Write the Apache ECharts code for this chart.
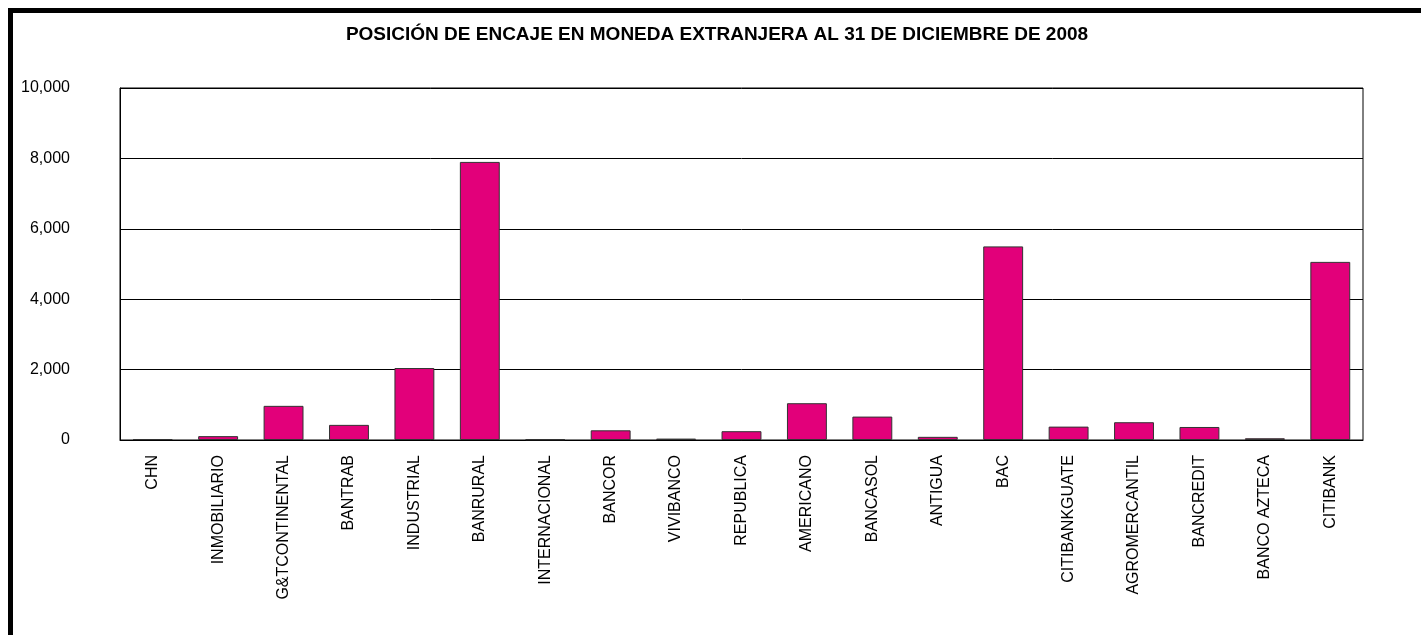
<!DOCTYPE html>
<html>
<head>
<meta charset="utf-8">
<script src="https://cdn.jsdelivr.net/npm/echarts@6/dist/echarts.min.js"></script>
<style>
html,body{margin:0;padding:0;background:#fff;}
#c{width:1421px;height:635px;}
</style>
</head>
<body>
<div id="c"></div>
<script>
const titleText = 'POSICIÓN DE ENCAJE EN MONEDA EXTRANJERA AL 31 DE DICIEMBRE DE 2008';
const categories = ['CHN','INMOBILIARIO','G&TCONTINENTAL','BANTRAB','INDUSTRIAL','BANRURAL','INTERNACIONAL','BANCOR','VIVIBANCO','REPUBLICA','AMERICANO','BANCASOL','ANTIGUA','BAC','CITIBANKGUATE','AGROMERCANTIL','BANCREDIT','BANCO AZTECA','CITIBANK'];
const values = [25, 110, 970, 430, 2045, 7900, 20, 275, 40, 250, 1045, 665, 90, 5500, 380, 505, 370, 50, 5060];
const yTicks = [0, 2000, 4000, 6000, 8000, 10000];

const chart = echarts.init(document.getElementById('c'), null, {renderer:'canvas'});
const font = 'Arial, "Liberation Sans", sans-serif';
chart.setOption({
  animation:false,
  backgroundColor:'#fff',
  title:{
    text:titleText,
    left:712, top:20, textAlign:'center',
    textStyle:{fontFamily:font, fontWeight:'bold', fontSize:19, color:'#000'}
  },
  graphic:[{
    type:'rect', silent:true,
    shape:{x:10.5, y:10.5, width:1600, height:1000},
    style:{fill:null, stroke:'#000', lineWidth:5}
  }],
  grid:{left:120, right:58, top:88, bottom:195, show:true, borderColor:'#000', borderWidth:1, containLabel:false},
  xAxis:{
    type:'category', data:categories,
    axisLine:{lineStyle:{color:'#000', width:1}},
    axisTick:{show:false},
    axisLabel:{rotate:90, margin:15, interval:0, fontFamily:font, fontSize:16, color:'#000'}
  },
  yAxis:{
    type:'value', min:yTicks[0], max:yTicks[yTicks.length-1], interval:2000,
    axisLine:{show:true, lineStyle:{color:'#000', width:1}},
    axisTick:{show:false},
    splitLine:{lineStyle:{color:'#000', width:1}},
    axisLabel:{margin:50, fontFamily:font, fontSize:16, color:'#000',
      formatter:v=>v.toLocaleString('en-US')}
  },
  series:[{
    type:'bar', data:values, barWidth:'61%',
    itemStyle:{color:'#E2007A', borderColor:'#333', borderWidth:1}
  }]
});
</script>
</body>
</html>
